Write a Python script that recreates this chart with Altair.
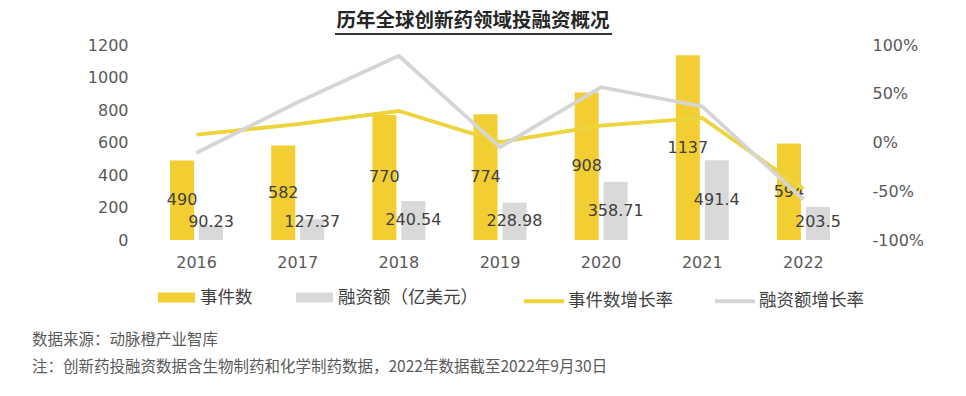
import altair as alt
import pandas as pd

# ---------------- data ----------------
years = ["2016", "2017", "2018", "2019", "2020", "2021", "2022"]
event_counts = [490, 582, 770, 774, 908, 1137, 594]
financing = [90.23, 127.37, 240.54, 228.98, 358.71, 491.4, 203.5]
event_growth = [0.08, 0.188, 0.323, 0.005, 0.173, 0.252, -0.478]
financing_growth = [-0.105, 0.412, 0.889, -0.048, 0.567, 0.370, -0.586]
event_labels = ["490", "582", "770", "774", "908", "1137", "594"]
financing_labels = ["90.23", "127.37", "240.54", "228.98", "358.71", "491.4", "203.5"]

bar_series = ["事件数", "融资额（亿美元）"]
line_series = ["事件数增长率", "融资额增长率"]
left_ticks = [0, 200, 400, 600, 800, 1000, 1200]
right_ticks = [-1, -0.5, 0, 0.5, 1]

title_text = ["历年全球创新药领域投融资概况"]
notes = ["数据来源：动脉橙产业智库",
         "注：创新药投融资数据含生物制药和化学制药数据，2022年数据截至2022年9月30日"]

# ---------------- tables ----------------
bars_df = pd.DataFrame({
    "year": years * 2,
    "series": [bar_series[0]] * 7 + [bar_series[1]] * 7,
    "value": event_counts + financing,
    "label": event_labels + financing_labels,
})
lines_df = pd.DataFrame({
    "year": years * 2,
    "series": [line_series[0]] * 7 + [line_series[1]] * 7,
    "rate": event_growth + financing_growth,
})

YELLOW = "#F3CE33"
GRAY = "#D9D9D9"
YELLOW_LINE = "#EDD43C"
GRAY_LINE = "#D5D5D5"
AX_COLOR = "#595959"
NUM_FONT = "DejaVu Sans"
CJK_FONT = "Noto Sans CJK SC"

x_scale = alt.Scale(domain=years, paddingInner=0.476, paddingOuter=0.238)
x_axis = alt.Axis(title=None, labelAngle=0, domain=False, ticks=False, grid=False,
                  labelFont=NUM_FONT, labelFontSize=16, labelColor=AX_COLOR,
                  labelPadding=14)
x_off = alt.XOffset("series:N", sort=bar_series,
                    scale=alt.Scale(domain=bar_series, paddingInner=0.17, paddingOuter=0))

y_left = alt.Scale(domain=[0, 1200], nice=False, zero=True)
y_left_axis = alt.Axis(title=None, values=left_ticks, tickCount=7, domain=False,
                       ticks=False, grid=False, labelFont=NUM_FONT, labelFontSize=16,
                       labelColor=AX_COLOR, labelPadding=18, format="d",
                       labelOverlap=False, labelBound=False)

bars = alt.Chart(bars_df).mark_bar().encode(
    x=alt.X("year:N", scale=x_scale, axis=x_axis),
    xOffset=x_off,
    y=alt.Y("value:Q", scale=y_left, axis=y_left_axis),
    color=alt.Color("series:N", sort=bar_series,
                    scale=alt.Scale(domain=bar_series, range=[YELLOW, GRAY]),
                    legend=alt.Legend(
                        title=None, orient="none", direction="horizontal",
                        legendX=12, legendY=234,
                        symbolType="M-1,-0.27H1V0.27H-1Z", symbolSize=1369,
                        symbolStrokeWidth=0, symbolOpacity=1,
                        labelFont=CJK_FONT, labelFontSize=17.5, labelColor="#404040",
                        labelOffset=5, columnPadding=43)),
)

labels = alt.Chart(bars_df).transform_calculate(
    ly="max(datum.value / 2, 110)"
).mark_text(font=NUM_FONT, fontSize=16, color="#404040", baseline="middle",
            align="center").encode(
    x=alt.X("year:N", scale=x_scale, axis=x_axis),
    xOffset=x_off,
    y=alt.Y("ly:Q", scale=y_left, axis=y_left_axis),
    text="label:N",
)

lines = alt.Chart(lines_df).mark_line(strokeWidth=3.8).encode(
    x=alt.X("year:N", scale=x_scale, axis=x_axis, bandPosition=0.5),
    y=alt.Y("rate:Q", scale=alt.Scale(domain=[-1, 1], nice=False),
            axis=alt.Axis(title=None, orient="right", values=right_ticks, domain=False,
                          ticks=False, grid=False, labelFont=NUM_FONT, labelFontSize=16,
                          labelColor=AX_COLOR, labelPadding=18, labelAlign="left",
                          labelOverlap=False,
                          labelExpr="round(datum.value * 100) + '%'")),
    stroke=alt.Stroke("series:N", sort=line_series,
                      scale=alt.Scale(domain=line_series, range=[YELLOW_LINE, GRAY_LINE]),
                      legend=alt.Legend(
                          title=None, orient="none", direction="horizontal",
                          legendX=376, legendY=234,
                          symbolType="stroke", symbolSize=1600, symbolStrokeWidth=4,
                          labelFont=CJK_FONT, labelFontSize=17.5, labelColor="#404040",
                          labelOffset=2, columnPadding=34)),
)

title = alt.Chart(pd.DataFrame({"t": title_text})).mark_text(
    font=CJK_FONT, fontSize=19.5, fontWeight="bold", color="#262626",
    align="center", baseline="middle"
).encode(x=alt.value(327), y=alt.value(-24), text="t:N")

underline = alt.Chart(pd.DataFrame({"t": title_text})).mark_rule(
    color="#333333", strokeWidth=1.8
).encode(x=alt.value(189), x2=alt.value(466), y=alt.value(-11))

note1 = alt.Chart(pd.DataFrame({"t": notes[:1]})).mark_text(
    font=CJK_FONT, fontSize=15.5, color="#595959", align="left", baseline="middle"
).encode(x=alt.value(-114), y=alt.value(295), text="t:N")

note2 = alt.Chart(pd.DataFrame({"t": notes[1:]})).mark_text(
    font=CJK_FONT, fontSize=15.5, color="#595959", align="left", baseline="middle"
).encode(x=alt.value(-114), y=alt.value(322), text="t:N")

left_layer = alt.layer(bars, labels)
chart = alt.layer(left_layer, lines, title, underline, note1, note2).resolve_scale(
    y="independent"
).properties(
    width=708, height=195,
    autosize=alt.AutoSizeParams(type="none"),
    padding={"left": 138, "top": 37, "right": 104, "bottom": 140},
    background="white",
).configure_view(stroke=None)

chart.save("out.html", embed_options={"renderer": "svg", "actions": False})
